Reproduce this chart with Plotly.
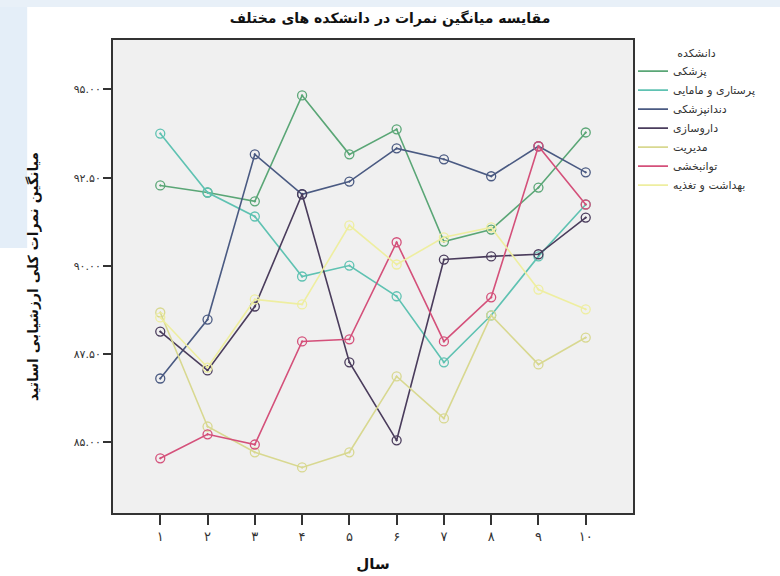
import plotly.graph_objects as go

# Years (1..10) and their Persian tick labels
years = [1, 2, 3, 4, 5, 6, 7, 8, 9, 10]
year_labels = ["۱", "۲", "۳", "۴", "۵", "۶", "۷", "۸", "۹", "۱۰"]

y_ticks = [85.0, 87.5, 90.0, 92.5, 95.0]
y_tick_labels = ["۸۵.۰۰", "۸۷.۵۰", "۹۰.۰۰", "۹۲.۵۰", "۹۵.۰۰"]

# Mean overall evaluation scores per faculty
pezeshki = [92.28, 92.08, 91.83, 94.83, 93.16, 93.87, 90.69, 91.03, 92.22, 93.78]
parastari = [93.75, 92.08, 91.40, 89.70, 90.01, 89.14, 87.27, 88.60, 90.27, 91.74]
dandan = [86.81, 88.48, 93.16, 92.03, 92.39, 93.33, 93.02, 92.54, 93.39, 92.65]
darusazi = [88.14, 87.04, 88.85, 92.03, 87.27, 85.06, 90.18, 90.27, 90.33, 91.37]
modiriat = [88.68, 85.45, 84.72, 84.29, 84.72, 86.87, 85.68, 88.60, 87.21, 87.97]
tavanbakhshi = [84.55, 85.23, 84.94, 87.86, 87.92, 90.67, 87.86, 89.11, 93.39, 91.74]
behdasht = [88.54, 87.12, 89.05, 88.91, 91.15, 90.04, 90.81, 91.09, 89.33, 88.77]

series = [
    ("پزشکی", pezeshki, "#5aa676"),
    ("پرستاری و مامایی", parastari, "#5fc2b2"),
    ("دندانپزشکی", dandan, "#4a5a82"),
    ("داروسازی", darusazi, "#4a3c5c"),
    ("مدیریت", modiriat, "#d8d890"),
    ("توانبخشی", tavanbakhshi, "#d4507a"),
    ("بهداشت و تغذیه", behdasht, "#eeeea0"),
]

FONT = "DejaVu Sans"

fig = go.Figure()

for name, vals, color in series:
    fig.add_trace(go.Scatter(
        x=years, y=vals, mode="lines+markers", name=name,
        line=dict(color=color, width=1.6),
        marker=dict(symbol="circle-open-dot", size=9, color=color,
                    line=dict(width=1.3, color=color)),
        showlegend=False,
    ))

# Legend entries showing only the line sample
for name, vals, color in series:
    fig.add_trace(go.Scatter(
        x=[None], y=[None], mode="lines", name=name,
        line=dict(color=color, width=1.6),
        showlegend=True,
    ))

fig.update_layout(
    width=780, height=576,
    margin=dict(l=113, r=147, t=40, b=63),
    paper_bgcolor="white",
    plot_bgcolor="#f0f0f0",
    font=dict(family=FONT, color="#222"),
    title=dict(text="<b>مقایسه میانگین نمرات در دانشکده های مختلف</b>",
               x=0.5, xanchor="center", y=0.968, yanchor="middle",
               font=dict(family=FONT, size=14, color="#111")),
    legend=dict(
        x=1.0, xanchor="left", y=0.995, yanchor="top",
        bgcolor="rgba(0,0,0,0)",
        font=dict(family=FONT, size=11, color="#333"),
        title=dict(text="دانشکده", side="top center",
                   font=dict(family=FONT, size=11, color="#333")),
        tracegroupgap=0, itemwidth=30,
    ),
    shapes=[
        dict(type="rect", xref="paper", yref="paper",
             x0=-0.218, x1=-0.165, y0=0.56, y1=1.085,
             fillcolor="#e4eef8", line=dict(width=0), layer="below"),
        dict(type="rect", xref="paper", yref="paper",
             x0=-0.218, x1=1.283, y0=1.07, y1=1.085,
             fillcolor="#e8f0f8", line=dict(width=0), layer="below"),
    ],
)

fig.update_xaxes(
    range=[0, 11], tickvals=years, ticktext=year_labels,
    ticks="outside", ticklen=10, tickwidth=1.5, tickcolor="#333",
    showgrid=False, zeroline=False, automargin=False,
    showline=True, mirror=True, linecolor="#333", linewidth=2,
    tickfont=dict(family=FONT, size=13, color="#333"),
    title=dict(text="<b>سال</b>", font=dict(family=FONT, size=15, color="#111"),
               standoff=16),
)
fig.update_yaxes(
    range=[83.0, 96.4], tickvals=y_ticks, ticktext=y_tick_labels,
    ticks="outside", ticklen=8, tickwidth=1.5, tickcolor="#333",
    showgrid=False, zeroline=False, automargin=False,
    showline=True, mirror=True, linecolor="#333", linewidth=2,
    tickfont=dict(family=FONT, size=11, color="#333"),
    title=dict(text="<b>میانگین نمرات کلی ارزشیابی اساتید</b>",
               font=dict(family=FONT, size=14, color="#111"), standoff=32),
)

fig.write_html("out.html")
